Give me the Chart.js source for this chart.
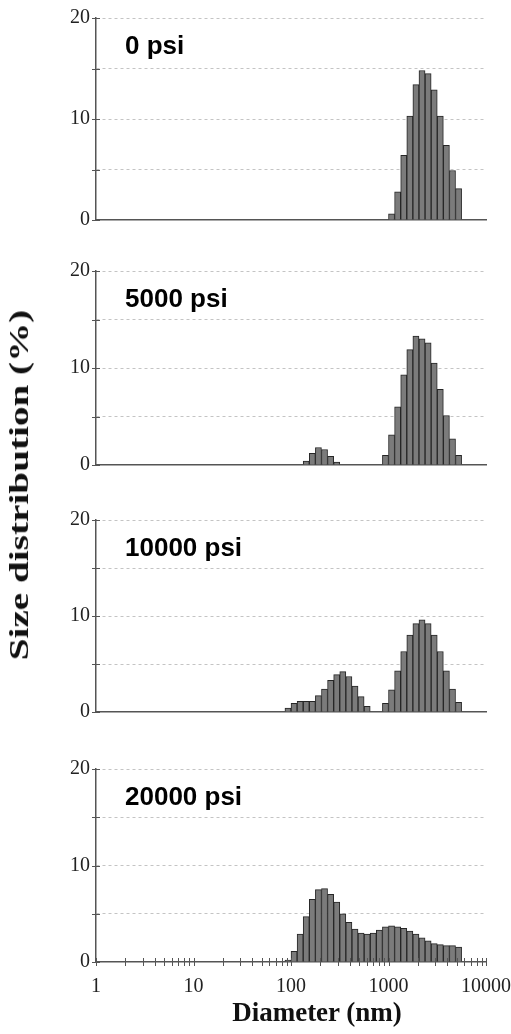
<!DOCTYPE html>
<html>
<head>
<meta charset="utf-8">
<script src="https://cdn.jsdelivr.net/npm/chart.js@4.4.0/dist/chart.umd.min.js"></script>
<style>
  html, body { margin: 0; padding: 0; background: #fff; overflow: hidden; }
  #fig { position: relative; width: 511px; height: 1034px; overflow: hidden; }
  #fig canvas { position: absolute; left: 0; }
  .axis-title { position: absolute; font-family: "Liberation Serif", "Times New Roman", serif; font-weight: bold; font-size: 27px; color: #111; white-space: nowrap; }
  #xTitle { left: 317px; top: 1012px; transform: translate(-50%, -50%); }
  #yTitle { left: 19px; top: 485px; font-size: 28px; transform: translate(-50%, -50%) rotate(-90deg) scaleX(1.4); }
</style>
</head>
<body>
<div id="fig">
  <canvas id="p0"></canvas>
  <canvas id="p1"></canvas>
  <canvas id="p2"></canvas>
  <canvas id="p3"></canvas>
  <div id="yTitle" class="axis-title">Size distribution (%)</div>
  <div id="xTitle" class="axis-title">Diameter (nm)</div>
</div>
<script>
// bin centres (nm), 1/16 decade bins
const diameters = [93.1, 107.5, 124.1, 143.3, 165.5, 191.1, 220.7, 254.8, 294.3, 339.8,
    392.4, 453.2, 523.3, 604.3, 697.8, 805.8, 930.6, 1074.6, 1240.9, 1433.0,
    1654.8, 1910.9, 2206.7, 2548.3, 2942.7, 3398.2, 3924.2, 4531.6, 5233.0];

const psi0 = [null, null, null, null, null, null, null, null, null, null,
    null, null, null, null, null, null, null, 0.6, 2.8, 6.4,
    10.3, 13.4, 14.8, 14.5, 12.9, 10.3, 7.4, 4.9, 3.1];
const psi5000 = [null, null, null, 0.4, 1.2, 1.8, 1.6, 0.9, 0.3, null,
    null, null, null, null, null, null, 1.0, 3.1, 6.0, 9.3,
    11.9, 13.3, 13.0, 12.6, 10.5, 7.8, 5.1, 2.7, 1.0];
const psi10000 = [0.4, 0.9, 1.1, 1.1, 1.1, 1.7, 2.4, 3.3, 3.9, 4.2,
    3.7, 2.7, 1.6, 0.6, null, null, 0.9, 2.3, 4.3, 6.3,
    8.0, 9.2, 9.6, 9.2, 8.0, 6.3, 4.3, 2.4, 1.0];
const psi20000 = [0.2, 1.1, 2.9, 4.7, 6.5, 7.5, 7.6, 7.0, 6.2, 5.0,
    4.1, 3.4, 3.0, 2.9, 3.0, 3.3, 3.65, 3.75, 3.65, 3.5,
    3.2, 2.9, 2.5, 2.2, 1.9, 1.8, 1.7, 1.7, 1.55];

const panelNames = ['0 psi', '5000 psi', '10000 psi', '20000 psi'];

const xTicks = [1, 2, 3, 4, 5, 6, 7, 8, 9,
    10, 20, 30, 40, 50, 60, 70, 80, 90,
    100, 200, 300, 400, 500, 600, 700, 800, 900,
    1000, 2000, 3000, 4000, 5000, 6000, 7000, 8000, 9000, 10000];
const xLabels = [1, 10, 100, 1000, 10000];
const yLabels = [0, 10, 20];
const yGridAt = [5, 10, 15, 20];

const serif = '"Liberation Serif", "Times New Roman", serif';

// ticks that cross the axis line
const crossTicks = {
    id: 'crossTicks',
    afterDraw(chart, args, opts) {
        const { ctx, chartArea, scales } = chart;
        ctx.save();
        ctx.strokeStyle = opts.color;
        ctx.lineWidth = 1;
        ctx.beginPath();
        scales.y.ticks.forEach(t => {
            const y = Math.round(scales.y.getPixelForValue(t.value)) + 0.5;
            ctx.moveTo(chartArea.left - opts.len, y);
            ctx.lineTo(chartArea.left + opts.len, y);
        });
        if (scales.xt && scales.xt.options.display) {
            scales.xt.ticks.forEach(t => {
                const x = Math.round(scales.xt.getPixelForValue(t.value)) + 0.5;
                ctx.moveTo(x, chartArea.bottom - opts.len);
                ctx.lineTo(x, chartArea.bottom + opts.len);
            });
        }
        ctx.stroke();
        ctx.restore();
    }
};

const panelLabel = {
    id: 'panelLabel',
    afterDatasetsDraw(chart, args, opts) {
        const { ctx, chartArea } = chart;
        ctx.save();
        ctx.font = 'bold 26px "Liberation Sans", Arial, sans-serif';
        ctx.fillStyle = '#000';
        ctx.textBaseline = 'alphabetic';
        ctx.fillText(opts.text, chartArea.left + 29, chartArea.top + 36);
        ctx.restore();
    }
};

function makePanel(id, values, name, top, bottom, showX) {
    const padTop = 20;
    const xh = showX ? 40 : 14;
    const canvas = document.getElementById(id);
    canvas.width = 540;
    canvas.height = (bottom - top) + padTop + xh + 2;
    canvas.style.top = (top - padTop) + 'px';

    return new Chart(canvas, {
        type: 'bar',
        data: {
            labels: diameters,
            datasets: [{
                data: values,
                backgroundColor: '#7b7b7b',
                borderColor: '#262626',
                borderWidth: 1,
                barPercentage: 1,
                categoryPercentage: 1,
            }]
        },
        options: {
            responsive: false,
            animation: false,
            layout: { padding: { top: padTop, left: 0, right: 540 - 486, bottom: 2 } },
            scales: {
                // data axis: only end ticks, so bar width comes from the bin spacing
                x: {
                    type: 'logarithmic',
                    min: 1,
                    max: 10000,
                    afterBuildTicks: axis => { axis.ticks = [{ value: 1 }, { value: 10000 }]; },
                    afterFit: scale => { scale.height = showX ? 0 : xh; },
                    grid: { display: false, drawTicks: false },
                    border: { display: true, color: '#555', width: 1.5 },
                    ticks: { display: false }
                },
                // tick/label axis
                xt: {
                    type: 'logarithmic',
                    position: 'bottom',
                    display: showX,
                    min: 1,
                    max: 10000,
                    afterBuildTicks: axis => { axis.ticks = xTicks.map(v => ({ value: v })); },
                    afterFit: scale => { scale.height = showX ? xh : 0; },
                    grid: { display: false, drawTicks: false },
                    border: { display: false },
                    ticks: {
                        autoSkip: false,
                        maxRotation: 0,
                        padding: 13,
                        color: '#222',
                        font: { family: serif, size: 20 },
                        callback: v => xLabels.includes(v) ? String(v) : ''
                    }
                },
                y: {
                    min: 0,
                    max: 20,
                    afterFit: scale => { scale.width = 96; },
                    grid: {
                        drawTicks: false,
                        color: c => yGridAt.includes(c.tick.value) ? '#c4c4c4' : 'transparent',
                        lineWidth: 1
                    },
                    border: { display: true, color: '#555', width: 1.5, dash: [3, 3] },
                    ticks: {
                        stepSize: 2.5,
                        padding: 6,
                        color: '#222',
                        font: { family: serif, size: 20 },
                        callback: v => yLabels.includes(v) ? String(v) : ''
                    }
                }
            },
            plugins: {
                legend: { display: false },
                tooltip: { enabled: false },
                crossTicks: { color: '#555', len: 4 },
                panelLabel: { text: name }
            }
        },
        plugins: [crossTicks, panelLabel]
    });
}

makePanel('p0', psi0, panelNames[0], 18, 222, false);
makePanel('p1', psi5000, panelNames[1], 271, 467, false);
makePanel('p2', psi10000, panelNames[2], 520, 714, false);
makePanel('p3', psi20000, panelNames[3], 769, 962, true);
</script>
</body>
</html>
